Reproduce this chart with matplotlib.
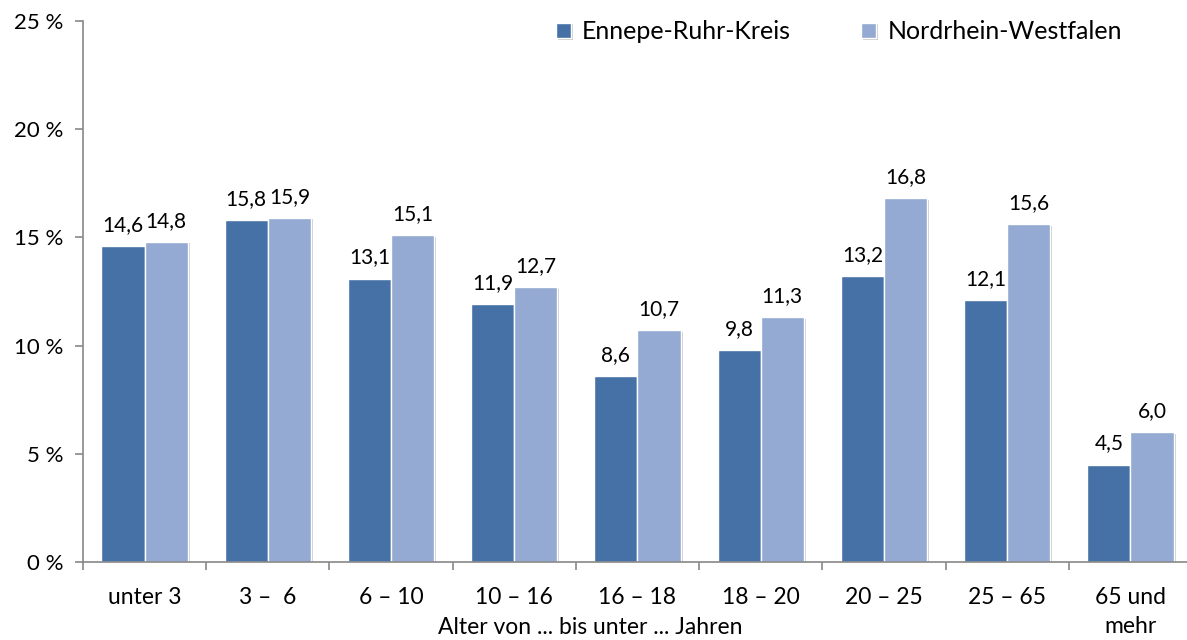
import matplotlib.pyplot as plt
import matplotlib.patheffects as pe
import numpy as np

plt.rcParams['font.family'] = ['Lato', 'DejaVu Sans']

kategorien = ['unter 3', '3 –  6', '6 – 10', '10 – 16', '16 – 18',
              '18 – 20', '20 – 25', '25 – 65', '65 und\nmehr']
enneppe = [14.6, 15.8, 13.1, 11.9, 8.6, 9.8, 13.2, 12.1, 4.5]
nrw = [14.8, 15.9, 15.1, 12.7, 10.7, 11.3, 16.8, 15.6, 6.0]

c_dunkel = '#4571A6'
c_hell = '#94AAD2'

fig = plt.figure(figsize=(11.87, 6.4), dpi=100)
ax = fig.add_axes([0.0699, 0.1219, 0.9343, 0.8453])

x = np.arange(len(kategorien))
w = 0.35
schatten = [pe.SimplePatchShadow(offset=(1.5, -1), shadow_rgbFace='#999999', alpha=0.5), pe.Normal()]

b1 = ax.bar(x - w / 2, enneppe, w, color=c_dunkel, edgecolor='white', linewidth=1,
            label='Ennepe-Ruhr-Kreis', path_effects=schatten)
b2 = ax.bar(x + w / 2, nrw, w, color=c_hell, edgecolor='white', linewidth=1,
            label='Nordrhein-Westfalen', path_effects=schatten)

for bars, werte in [(b1, enneppe), (b2, nrw)]:
    for b, v in zip(bars, werte):
        ax.annotate(f'{v:.1f}'.replace('.', ','), (b.get_x() + b.get_width() / 2, v),
                    xytext=(0, 8), textcoords='offset points', ha='center', va='bottom',
                    fontsize=15)

ax.set_xlim(-0.5, len(kategorien) - 0.5)
ax.set_ylim(0, 25)
ax.set_yticks([0, 5, 10, 15, 20, 25])
ax.set_yticklabels([f'{t} %' for t in [0, 5, 10, 15, 20, 25]], fontsize=16)

ax.set_xticks(np.arange(-0.5, len(kategorien) - 0.5, 1))
ax.set_xticklabels([])
ax.set_xticks(x, minor=True)
ax.set_xticklabels(kategorien, minor=True, fontsize=16.5, linespacing=1.5)
ax.tick_params(axis='x', which='minor', length=0, pad=18)
ax.tick_params(axis='x', which='major', length=6, color='#888888', width=1.2)
ax.tick_params(axis='y', length=6, color='#888888', width=1.2, pad=8)

for s in ['top', 'right']:
    ax.spines[s].set_visible(False)
for s in ['left', 'bottom']:
    ax.spines[s].set_color('#888888')
    ax.spines[s].set_linewidth(1.2)

fig.text(0.497, 0.019, 'Alter von ... bis unter ... Jahren', ha='center', va='center', fontsize=16.5)

ax.legend(loc='center left', bbox_to_anchor=(0.4265, 0.98), ncol=2, frameon=False,
          fontsize=18, handlelength=0.6, handleheight=0.6, columnspacing=2.8,
          handletextpad=0.45, borderpad=0, borderaxespad=0)

fig.savefig('out.png', dpi=100)
